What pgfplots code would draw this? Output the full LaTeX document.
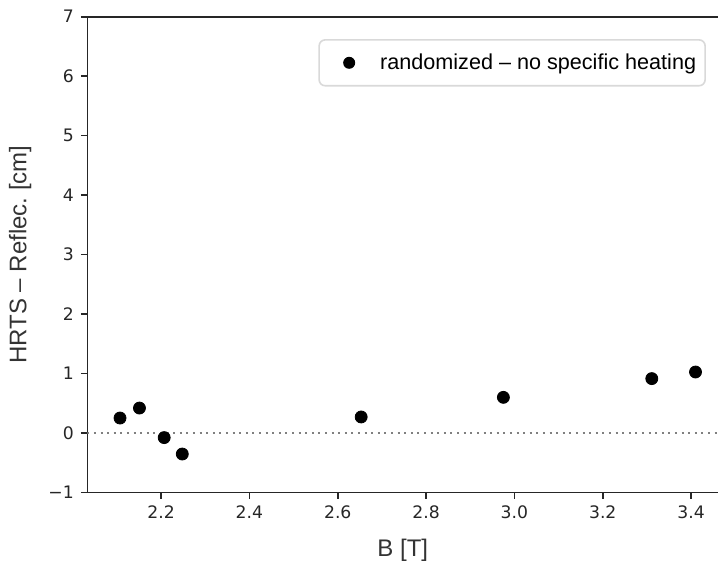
\documentclass[border=0pt]{standalone}
\usepackage{fontspec}
\setmainfont{Liberation Sans}
\newfontfamily\dejavu{DejaVu Sans}
\usepackage{pgfplots}
\pgfplotsset{compat=1.18}

\begin{document}
\begin{tikzpicture}
\begin{axis}[
    name=ax,
    scale only axis,
    width=317.2pt,
    height=237.8pt,
    xmin=2.033, xmax=3.47,
    ymin=-1, ymax=7,
    axis line style={black!85, line width=0.8pt},
    tick pos=left,
    tick align=outside,
    major tick length=3.2pt,
    tick style={black!85, line width=0.8pt},
    xtick={2.2,2.4,2.6,2.8,3.0,3.2,3.4},
    xticklabels={2.2,2.4,2.6,2.8,3.0,3.2,3.4},
    ytick={-1,0,1,2,3,4,5,6,7},
    yticklabels={−1,0,1,2,3,4,5,6,7},
    tick label style={font=\dejavu\fontsize{8.6}{10}\selectfont, text=black!85},
    xlabel={B [T]},
    ylabel={HRTS – Reflec.\ [cm]},
    every axis x label/.style={at={(axis description cs:0.497,0)}, anchor=center,
        yshift=-28.9pt, font=\fontsize{12}{14}\selectfont, text=black!80},
    every axis y label/.style={at={(axis description cs:-0.106,0.5)}, rotate=90,
        anchor=center, font=\fontsize{12}{14}\selectfont, text=black!80},
    legend style={
        at={(axis description cs:0.364,0.953)}, anchor=north west,
        draw=black!15, line width=0.8pt, rounded corners=3pt,
        inner xsep=2.5pt, inner ysep=4.8pt, column sep=2pt,
        font=\fontsize{10.8}{13}\selectfont,
    },
    legend image code/.code={
        \path[draw=none, fill=none] (0pt,-3pt) rectangle (24pt,3pt);
        \fill[black, draw=none] (12.5pt,0pt) circle (3pt);
    },
]
\addplot[forget plot, gray, line width=1pt, dash pattern=on 1pt off 2.3pt]
    coordinates {(2.033,0) (3.47,0)};
\addplot[only marks, mark=*, mark size=3pt, mark options={fill=black, draw=black}]
    coordinates {
    (2.107,0.252) (2.151,0.42) (2.207,-0.077) (2.248,-0.353)
    (2.653,0.27) (2.975,0.60) (3.311,0.915) (3.41,1.026)
    };
\legend{randomized – no specific heating}
\end{axis}
\pgfresetboundingbox
\useasboundingbox ([xshift=-43.65pt,yshift=-34.35pt]ax.south west) rectangle ([xshift=-2pt,yshift=8.35pt]ax.north east);
\end{tikzpicture}
\end{document}
